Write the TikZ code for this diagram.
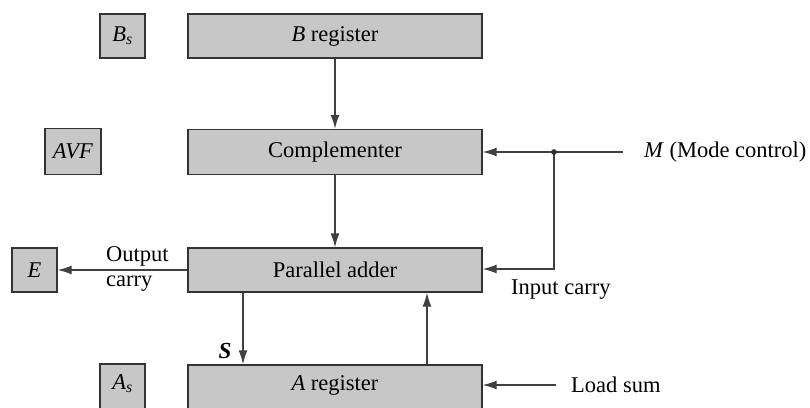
\documentclass[tikz,border=0pt]{standalone}
\usepackage{fontspec}
\setmainfont{Liberation Serif}
\usetikzlibrary{arrows.meta}
\begin{document}
\begin{tikzpicture}[x=1pt,y=-1pt,
  blk/.style={draw=black!80, line width=1.4pt, fill=black!22, inner sep=0pt, font=\fontsize{22.5}{25}\selectfont},
  conn/.style={draw=black!75, line width=1.4pt},
  arr/.style={conn, -{Latex[length=14pt,width=9pt]}},
  lbl/.style={font=\fontsize{22.5}{25}\selectfont, inner sep=0pt}]
\useasboundingbox (0,0) rectangle (810,407);
\clip (0,0) rectangle (810,407);
\fill[white] (0,0) rectangle (810,407);
% boxes
\node[blk, minimum width=294pt, minimum height=44pt] (breg) at (335,36) {\textit{B} register};
\node[blk, minimum width=45pt, minimum height=44pt] (bs) at (122.5,36) {\textit{B}\textsubscript{\textit{s}}};
\node[blk, minimum width=294pt, minimum height=45pt] (comp) at (335,152) {Complementer};
\node[blk, minimum width=56pt, minimum height=46pt] (avf) at (73,151.5) {\textit{AVF}};
\node[blk, minimum width=294pt, minimum height=44pt] (pa) at (335,270) {Parallel adder};
\node[blk, minimum width=45pt, minimum height=44pt] (e) at (34.5,270) {\textit{E}};
\node[blk, minimum width=294pt, minimum height=50pt] (areg) at (335,390) {};
\node[font=\fontsize{22.5}{25}\selectfont, inner sep=0pt] (atext) at (335,385) {\textit{A} register};
\node[blk, minimum width=45pt, minimum height=50pt] (as) at (122.5,389) {};
\node[font=\fontsize{22.5}{25}\selectfont, inner sep=0pt] (astext) at (122.5,384) {\textit{A}\textsubscript{\textit{s}}};
% coordinates
\coordinate (mstart) at (623,152);
\coordinate (junc) at (554,152);
\coordinate (jdown) at (554,269);
\coordinate (lstart) at (556,385);
% connectors
\draw[arr] (breg.south) -- (comp.north);
\draw[arr] (comp.south) -- (pa.north);
\draw[arr] (pa.west) -- (e.east);
\draw[arr] (pa.south -| 243,0) -- (areg.north -| 243,0);
\draw[arr] (areg.north -| 427,0) -- (pa.south -| 427,0);
\draw[arr] (mstart) -- (comp.east);
\draw[arr] (junc) -- (jdown) -- (pa.east |- jdown);
\fill[black!80] (junc) circle (2.8pt);
\draw[arr] (lstart) -- (areg.east |- lstart);
% labels
\node[lbl, anchor=west] (mlbl) at (644,152) {\textit{M} (Mode control)};
\node[lbl, anchor=west] (iclbl) at (511,290) {Input carry};
\node[lbl, anchor=west] (lslbl) at (571,385) {Load sum};
\node[lbl, anchor=west] (outlbl) at (106,256) {Output};
\node[lbl, anchor=west] (carlbl) at (106,284) {carry};
\node[lbl, font=\fontsize{23}{25}\selectfont\bfseries\itshape] (slbl) at (225,351) {S};
\end{tikzpicture}
\end{document}
